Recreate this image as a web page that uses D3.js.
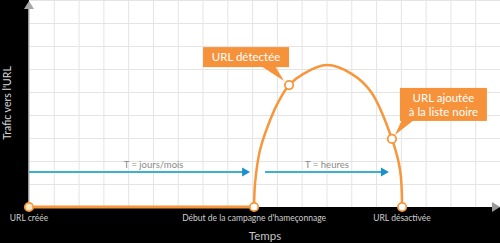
<!DOCTYPE html>
<html>
<head>
<meta charset="utf-8">
<script src="https://cdn.jsdelivr.net/npm/d3@7"></script>
<style>
  html, body { margin: 0; padding: 0; background: #000; }
  svg { display: block; font-family: Lato, "Open Sans", sans-serif; }
</style>
</head>
<body>
<svg id="chart" width="500" height="243"></svg>
<script>
// values (time in grid cells, traffic in grid rows)
var flatTime = [0, 9.08];
var curveTime =    [9.08, 9.12, 9.32, 9.76, 10.08, 10.49, 11.05, 12.02, 13.03, 13.8, 14.64, 14.97, 15.05];
var curveTraffic = [0,    1.04, 2.48, 3.87, 4.61,  5.3,   5.78,  6.17,  5.78,  5.0,  2.96,  1.6,   0];

var eventNames = ["URL créée", "Début de la campagne d'hameçonnage", "URL désactivée"];
var eventTimes = [0, 9.08, 15.05];

var phaseNames = ["T = jours/mois", "T = heures"];
var phaseStart = [0, 9.52];
var phaseEnd = [8.92, 14.52];
var phaseLevel = 1.52;

var calloutText = [["URL détectée"], ["URL ajoutée", "à la liste noire"]];
var calloutTime = [10.49, 14.64];
var calloutTraffic = [5.3, 2.96];

var svg = d3.select('#chart');
var W = 500, H = 243;
var left = 29, bottom = 207;

var x = d3.scaleLinear().domain([0, 19]).range([left, W]);
var y = d3.scaleLinear().domain([0, 9]).range([bottom, 0]);

var orange = '#f7963a';
var boxOrange = '#f6923a';

// plot background
svg.append('rect').attr('x', left).attr('y', 0)
  .attr('width', W - left).attr('height', bottom).attr('fill', '#fff');

// grid
svg.append('g').attr('transform', 'translate(0,' + bottom + ')')
  .call(d3.axisBottom(x).tickValues(d3.range(1, 20)).tickSize(-bottom).tickFormat(''))
  .call(function(g) {
    g.select('.domain').remove();
    g.selectAll('line').attr('stroke', '#e4e4e4');
  });
svg.append('g').attr('transform', 'translate(' + left + ',0)')
  .call(d3.axisLeft(y).tickValues(d3.range(1, 10)).tickSize(-(W - left)).tickFormat(''))
  .call(function(g) {
    g.select('.domain').remove();
    g.selectAll('line').attr('stroke', '#e4e4e4');
  });

// y axis with arrow
svg.append('line').attr('x1', left).attr('x2', left).attr('y1', bottom).attr('y2', 6)
  .attr('stroke', '#c8c8c8').attr('stroke-width', 1.5);
svg.append('path').attr('d', 'M' + (left - 5) + ',9 L' + left + ',1 L' + (left + 5) + ',9 Z')
  .attr('fill', '#a8a8a8');
// x axis arrow
svg.append('path').attr('d', 'M' + (W - 8) + ',' + (bottom - 5) + ' L' + W + ',' + bottom + ' L' + (W - 8) + ',' + (bottom + 5) + ' Z')
  .attr('fill', '#9a9a9a');

// phase arrows
var blue = '#3cb0cf';
var phases = svg.append('g');
phaseNames.forEach(function(name, i) {
  var yy = y(phaseLevel);
  var tip = x(phaseEnd[i]);
  phases.append('line').attr('x1', x(phaseStart[i])).attr('x2', tip - 5)
    .attr('y1', yy).attr('y2', yy).attr('stroke', blue).attr('stroke-width', 2);
  phases.append('path')
    .attr('d', 'M' + (tip - 8) + ',' + (yy - 4.5) + ' L' + tip + ',' + yy + ' L' + (tip - 8) + ',' + (yy + 4.5) + ' Z')
    .attr('fill', '#1a90d0');
  phases.append('text').attr('x', (x(phaseStart[i]) + tip) / 2 + (i === 0 ? 14 : 0)).attr('y', yy - 4)
    .attr('text-anchor', 'middle').attr('font-size', 9.5).attr('fill', '#8a8a8a').text(name);
});

// traffic line
var line = d3.line().x(function(d) { return x(d[0]); }).y(function(d) { return y(d[1]); });
svg.append('path').datum(flatTime.map(function(t) { return [t, 0]; }))
  .attr('d', line).attr('fill', 'none').attr('stroke', orange).attr('stroke-width', 3);
svg.append('path').datum(d3.zip(curveTime, curveTraffic))
  .attr('d', line.curve(d3.curveCatmullRom.alpha(0.5)))
  .attr('fill', 'none').attr('stroke', orange).attr('stroke-width', 2.5);

// callouts
calloutText.forEach(function(lines, i) {
  var cx = x(calloutTime[i]), cy = y(calloutTraffic[i]);
  var g = svg.append('g');
  var bx, by, bw, bh, tri;
  if (i === 0) {
    bw = 86; bh = 20; bx = cx - 86; by = cy - 38;
    tri = 'M' + (cx - 28) + ',' + (by + bh - 1) + ' L' + (cx - 5) + ',' + (cy - 4) + ' L' + (cx - 14) + ',' + (by + bh - 1) + ' Z';
  } else {
    bw = 87; bh = 33; bx = cx + 8; by = cy - 51;
    tri = 'M' + (bx + 2) + ',' + (by + bh - 1) + ' L' + (cx + 3) + ',' + (cy - 4) + ' L' + (bx + 14) + ',' + (by + bh - 1) + ' Z';
  }
  g.append('rect').attr('x', bx).attr('y', by).attr('width', bw).attr('height', bh).attr('fill', boxOrange);
  g.append('path').attr('d', tri).attr('fill', boxOrange);
  lines.forEach(function(t, j) {
    g.append('text').attr('x', bx + bw / 2).attr('y', by + 14 + j * 14.5)
      .attr('text-anchor', 'middle').attr('font-size', 11.5).attr('fill', '#fff').text(t);
  });
});

// dots
var dots = d3.zip(eventTimes, eventTimes.map(function() { return 0; }))
  .concat(d3.zip(calloutTime, calloutTraffic));
svg.selectAll('circle.dot').data(dots).enter().append('circle')
  .attr('class', 'dot')
  .attr('cx', function(d) { return x(d[0]); })
  .attr('cy', function(d) { return y(d[1]); })
  .attr('r', 4.2)
  .attr('fill', function(d, i) { return i === 0 ? '#fde8c6' : '#fff'; })
  .attr('stroke', orange).attr('stroke-width', 1.8);

// event labels
svg.selectAll('text.event').data(eventNames).enter().append('text')
  .attr('class', 'event')
  .attr('x', function(d, i) { return x(eventTimes[i]); })
  .attr('y', bottom + 14)
  .attr('text-anchor', 'middle').attr('font-size', 8.5).attr('fill', '#cfcfcf')
  .text(function(d) { return d; });

// axis titles
svg.append('text').attr('x', 265).attr('y', H - 3).attr('text-anchor', 'middle')
  .attr('font-size', 11.5).attr('fill', '#c4c4c4').text('Temps');
svg.append('text').attr('transform', 'translate(11,103) rotate(-90)').attr('text-anchor', 'middle')
  .attr('font-size', 10.5).attr('fill', '#d8d8d8').text("Trafic vers l'URL");
</script>
</body>
</html>
